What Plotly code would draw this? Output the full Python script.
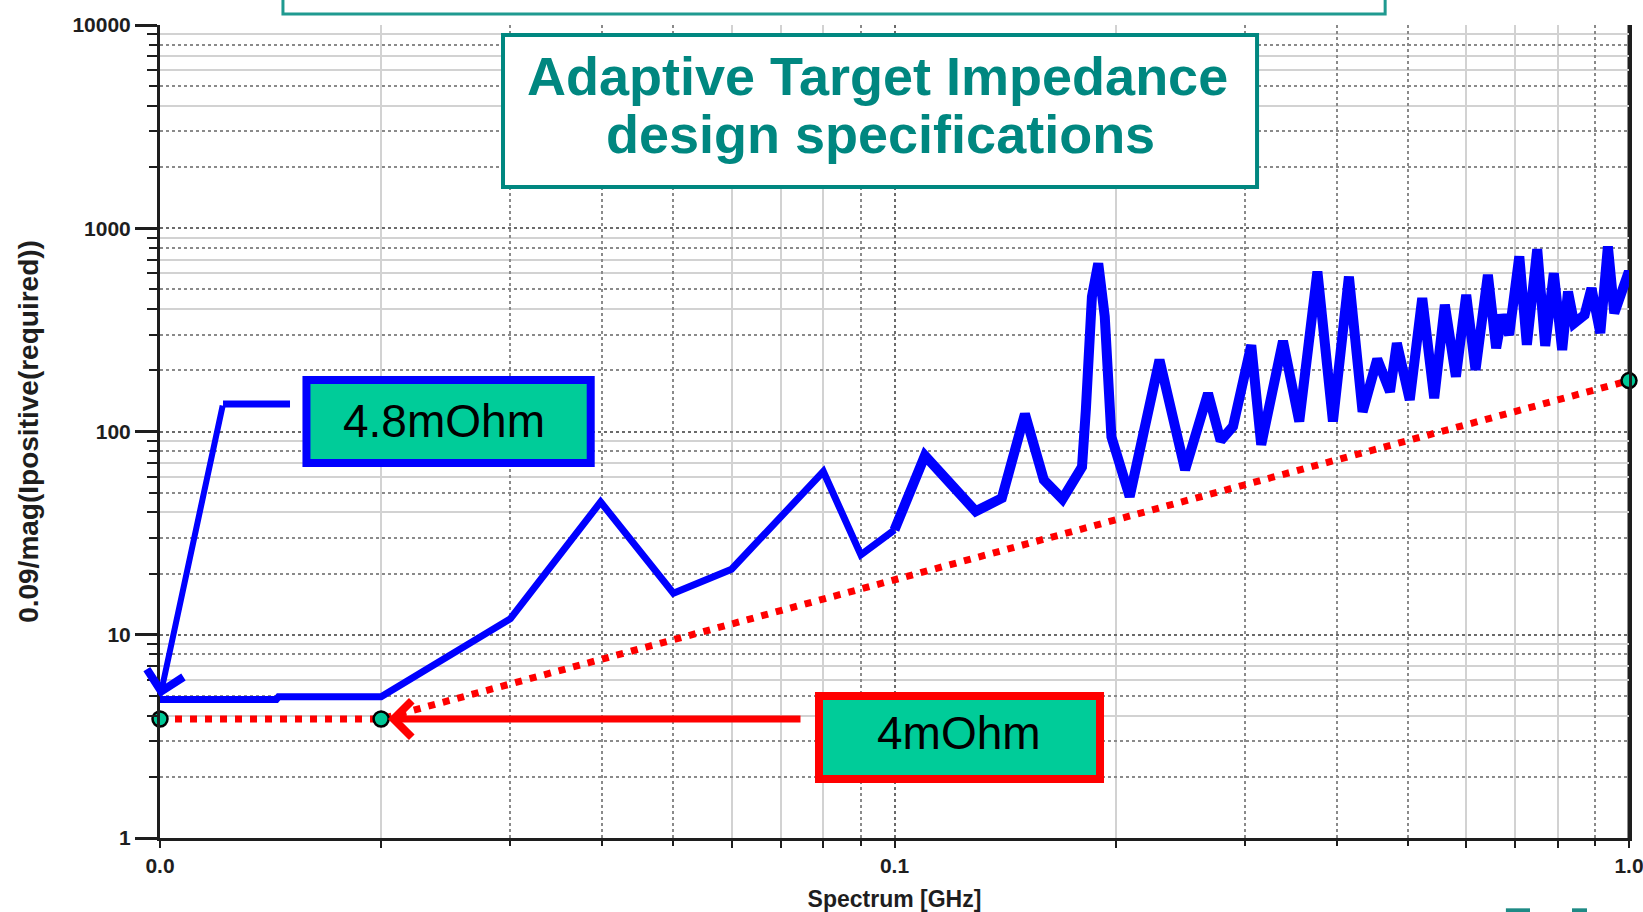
import plotly.graph_objects as go

# ---------------- data ----------------
freq_ghz = [0.01, 0.0144, 0.0145, 0.02, 0.03, 0.0398, 0.05, 0.06, 0.08, 0.09, 0.1,
            0.110, 0.129, 0.140, 0.1505, 0.1597, 0.1693, 0.1800, 0.1822, 0.1857, 0.1894,
            0.1933, 0.1974, 0.209, 0.2295, 0.2487, 0.2672, 0.278, 0.289, 0.306, 0.3157,
            0.338, 0.3557, 0.3765, 0.3953, 0.4156, 0.4338, 0.4542, 0.4727, 0.483, 0.5029,
            0.523, 0.543, 0.5614, 0.5812, 0.6003, 0.6181, 0.6425, 0.6594, 0.672, 0.6868,
            0.709, 0.726, 0.750, 0.769, 0.790, 0.811, 0.826, 0.842, 0.870, 0.889,
            0.914, 0.936, 0.955, 0.9995, 1.01]
impedance = [4.8, 4.8, 4.95, 4.95, 12.0, 45.0, 16.0, 21.0, 63.5, 24.7, 32.8,
             76.0, 40.5, 47.0, 122.0, 57.8, 46.5, 67.0, 128.0, 461.0, 672.0,
             368.0, 94.0, 47.8, 225.0, 64.7, 154.0, 90.0, 106.0, 266.0, 86.0,
             279.0, 112.0, 612.0, 112.0, 578.0, 125.0, 227.0, 157.0, 272.0, 143.0,
             453.0, 146.0, 420.0, 186.0, 470.0, 201.0, 590.0, 257.0, 375.0, 299.0,
             726.0, 267.0, 789.0, 264.0, 601.0, 252.0, 488.0, 341.0, 375.0, 507.0,
             305.0, 813.0, 382.0, 612.0, 540.0]

target_freq = [0.01, 0.02, 1.0]
target_imp = [3.85, 3.85, 178.0]

x_tick_vals = [0.01, 0.1, 1.0]
x_tick_text = ["0.0", "0.1", "1.0"]
y_tick_vals = [1, 10, 100, 1000, 10000]
y_tick_text = ["1", "10", "100", "1000", "10000"]

x_minor_solid_digits = [2, 6, 7, 8]
x_minor_dotted_digits = [3, 4, 5, 9]
y_minor_solid_digits = [4, 6, 7, 9]
y_minor_dotted_digits = [2, 3, 5, 8]
x_decades = [0.01, 0.1]
y_decades = [1, 10, 100, 1000]

title_line1 = "Adaptive Target Impedance"
title_line2 = "design specifications"
label_blue = "4.8mOhm"
label_red = "4mOhm"
x_title = "Spectrum [GHz]"
y_title = "0.09/mag(Ipositive(required))"

# ---------------- styles ----------------
FONT = "Liberation Sans, Arial, sans-serif"
TEAL = "#008780"
GREEN = "#00CC99"
BLUE = "#0000FF"
RED = "#FF0000"
AX = "#1e1e1e"
LIGHT_GRID = "#d2d2d2"
DOT_GRID = "#8a8a8a"

def build(decades, digits):
    return [d * k for d in decades for k in digits]

x_solid = build(x_decades, x_minor_solid_digits)
x_dotted = build(x_decades, x_minor_dotted_digits)
y_solid = build(y_decades, y_minor_solid_digits)
y_dotted = build(y_decades, y_minor_dotted_digits)

split = freq_ghz.index(0.1)

fig = go.Figure()
fig.add_trace(go.Scatter(x=freq_ghz[:split + 1], y=impedance[:split + 1], mode="lines",
                         line=dict(color=BLUE, width=7), hoverinfo="skip", showlegend=False))
fig.add_trace(go.Scatter(x=freq_ghz[split:], y=impedance[split:], mode="lines",
                         line=dict(color=BLUE, width=10), hoverinfo="skip", showlegend=False))
fig.add_trace(go.Scatter(x=target_freq, y=target_imp, mode="lines+markers",
                         xaxis="x2", yaxis="y2",
                         line=dict(color=RED, width=7, dash="7px,8px"),
                         marker=dict(size=15, color="#00C896", line=dict(color="black", width=2.5)),
                         cliponaxis=False, hoverinfo="skip", showlegend=False))

tickfont = dict(family=FONT, size=21, color=AX, weight="bold")

fig.update_layout(
    width=1643, height=912,
    margin=dict(l=160, r=14, t=25, b=74, autoexpand=False),
    paper_bgcolor="white", plot_bgcolor="white",
    showlegend=False,
    xaxis=dict(type="log", range=[-2, 0], tickmode="array", tickvals=x_tick_vals,
               ticktext=x_tick_text, tickfont=tickfont, ticks="outside", ticklen=7,
               tickwidth=2, tickcolor=AX, showline=True, linecolor=AX, linewidth=3,
               mirror=False, showgrid=True, gridcolor="#6a6a6a", gridwidth=2, griddash="dot",
               zeroline=False, automargin=False, ticklabeloverflow="allow",
               minor=dict(tickmode="array", tickvals=x_solid, ticks="outside", ticklen=7,
                          tickwidth=2, tickcolor=AX, showgrid=True, gridcolor=LIGHT_GRID,
                          gridwidth=2, griddash="solid"),
               title=dict(text=x_title, font=dict(family=FONT, size=23, color=AX, weight="bold"),
                          standoff=15)),
    yaxis=dict(type="log", range=[0, 4], tickmode="array", tickvals=y_tick_vals,
               ticktext=y_tick_text, tickfont=tickfont, ticks="outside", ticklen=22,
               tickwidth=2.5, tickcolor=AX, showline=True, linecolor=AX, linewidth=3,
               mirror=True, showgrid=True, gridcolor="#6a6a6a", gridwidth=2, griddash="dot",
               zeroline=False, automargin=False, ticklabeloverflow="allow",
               minor=dict(tickmode="array", tickvals=y_solid, ticks="outside", ticklen=10,
                          tickwidth=2, tickcolor=AX, showgrid=True, gridcolor=LIGHT_GRID,
                          gridwidth=2, griddash="solid"),
               title=dict(text=y_title, font=dict(family=FONT, size=28, color=AX, weight="bold"),
                          standoff=26)),
    xaxis2=dict(type="log", range=[-2, 0], overlaying="x", anchor="y2", side="bottom",
                tickmode="array", tickvals=x_dotted, showticklabels=False, ticks="outside",
                ticklen=7, tickwidth=2, tickcolor=AX, showline=False, showgrid=True,
                gridcolor=DOT_GRID, gridwidth=1.5, griddash="dot", zeroline=False),
    yaxis2=dict(type="log", range=[0, 4], overlaying="y", anchor="x2", side="left",
                tickmode="array", tickvals=y_dotted, showticklabels=False, ticks="outside",
                ticklen=10, tickwidth=2, tickcolor=AX, showline=False, showgrid=True,
                gridcolor=DOT_GRID, gridwidth=1.5, griddash="dot", zeroline=False),
)

shapes = [
    # partially visible outer box at the very top
    dict(type="rect", xref="paper", yref="paper", x0=0.0837, x1=0.834, y0=1.0135, y1=1.2,
         line=dict(color="#1f9a90", width=3), fillcolor="rgba(0,0,0,0)", layer="above"),
    # right frame line
    dict(type="line", xref="paper", yref="paper", x0=1, x1=1, y0=0, y1=1,
         line=dict(color=AX, width=3), layer="below"),
    # title box
    dict(type="rect", xref="paper", yref="paper", x0=0.2335, x1=0.7468, y0=0.8007, y1=0.9877,
         line=dict(color=TEAL, width=4), fillcolor="white", layer="above"),
    # 4.8mOhm box
    dict(type="rect", xref="paper", yref="paper", x0=0.0997, x1=0.2932, y0=0.4613, y1=0.5633,
         line=dict(color=BLUE, width=8), fillcolor=GREEN, layer="above"),
    # 4mOhm box
    dict(type="rect", xref="paper", yref="paper", x0=0.4486, x1=0.6399, y0=0.0726, y1=0.1746,
         line=dict(color=RED, width=8), fillcolor=GREEN, layer="above"),
    # horizontal leg of the blue callout
    dict(type="line", xref="paper", yref="paper", x0=0.0429, x1=0.0885, y0=0.5338, y1=0.5338,
         line=dict(color=BLUE, width=7), layer="above"),
    # small teal marks at the bottom right
    dict(type="rect", xref="paper", yref="paper", x0=0.9162, x1=0.9326, y0=-0.092, y1=-0.0865,
         line=dict(width=0), fillcolor="#1f8a85", layer="above"),
    dict(type="rect", xref="paper", yref="paper", x0=0.9612, x1=0.9714, y0=-0.092, y1=-0.0865,
         line=dict(width=0), fillcolor="#1f8a85", layer="above"),
]
fig.update_layout(shapes=shapes)

annotations = [
    dict(text=title_line1, xref="paper", yref="paper", x=0.4885, y=0.9375, showarrow=False,
         xanchor="center", yanchor="middle",
         font=dict(family=FONT, size=54, color=TEAL, weight="bold")),
    dict(text=title_line2, xref="paper", yref="paper", x=0.4905, y=0.866, showarrow=False,
         xanchor="center", yanchor="middle",
         font=dict(family=FONT, size=54, color=TEAL, weight="bold")),
    dict(text=label_blue, xref="paper", yref="paper", x=0.1935, y=0.5135, showarrow=False,
         xanchor="center", yanchor="middle", font=dict(family=FONT, size=46, color="black")),
    dict(text=label_red, xref="paper", yref="paper", x=0.5439, y=0.1289, showarrow=False,
         xanchor="center", yanchor="middle", font=dict(family=FONT, size=46, color="black")),
    # blue arrow: diagonal leg down to the 4.8 mOhm curve
    dict(text="", xref="paper", yref="paper", x=0.0, y=0.1734, ax=63, ay=-293,
         axref="pixel", ayref="pixel", showarrow=True, arrowhead=4, arrowsize=1.2,
         arrowwidth=6, arrowcolor=BLUE, standoff=0, startstandoff=0),
    # red arrow pointing at the 4 mOhm corner
    dict(text="", xref="paper", yref="paper", x=0.1552, y=0.1464, ax=414, ay=0,
         axref="pixel", ayref="pixel", showarrow=True, arrowhead=4, arrowsize=1.0,
         arrowwidth=7, arrowcolor=RED, standoff=0, startstandoff=0),
]
fig.update_layout(annotations=annotations)

fig.write_html("out.html",
               config=dict(displayModeBar=False),
               post_script="document.body.style.margin='0';document.body.style.padding='0';"
                           "document.body.style.overflow='hidden';")
